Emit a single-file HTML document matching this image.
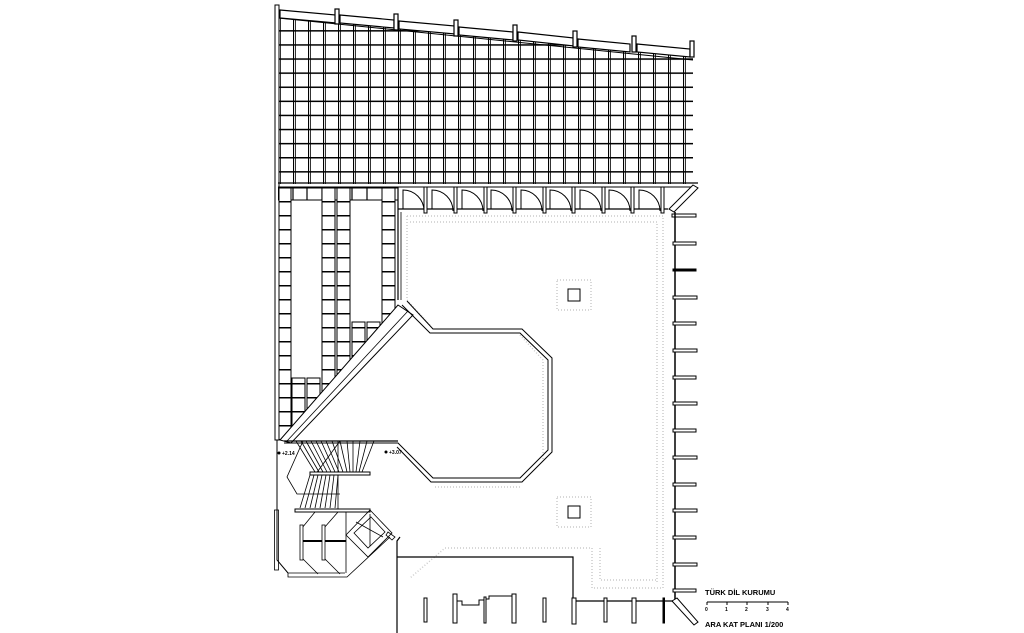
<!DOCTYPE html>
<html><head><meta charset="utf-8"><style>
html,body{margin:0;padding:0;background:#fff;}
svg{display:block;}
text{font-family:"Liberation Sans",sans-serif;font-weight:bold;}
</style></head><body>
<svg width="1024" height="633" viewBox="0 0 1024 633" xmlns="http://www.w3.org/2000/svg">
<defs>
<pattern id="g1" x="278" y="16" width="15" height="14.1" patternUnits="userSpaceOnUse">
<rect x="0" y="0" width="15" height="14.1" fill="#fff"/>
<line x1="0" y1="0.5" x2="15" y2="0.5" stroke="#000" stroke-width="2"/>
<line x1="0.5" y1="0" x2="0.5" y2="14.1" stroke="#000" stroke-width="1.2"/>
<line x1="2.5" y1="0" x2="2.5" y2="14.1" stroke="#000" stroke-width="0.8"/>
</pattern>
<pattern id="g2" x="0" y="187" width="15" height="14" patternUnits="userSpaceOnUse">
<rect width="15" height="14" fill="#fff"/>
<line x1="0" y1="0.6" x2="15" y2="0.6" stroke="#000" stroke-width="1.8"/>
</pattern>
<clipPath id="ctop"><polygon points="278,10 693,53 693,184 278,184"/></clipPath>
<clipPath id="cdiag"><polygon points="278,184 398,184 398,305 285,440 278,440"/></clipPath>
</defs>

<rect x="278" y="10" width="415" height="175" fill="url(#g1)" clip-path="url(#ctop)"/>
<g stroke="#000" stroke-width="1.2" fill="#fff">
<polygon points="280,10 336,15 336,23 280,18"/>
<polygon points="340,15 394,20 394,28 340,23"/>
<polygon points="399,21 455,26 455,34 399,29"/>
<polygon points="459,27 513,32 513,40 459,35"/>
<polygon points="518,32 574,38 574,46 518,40"/>
<polygon points="578,39 630,44 630,52 578,47"/>
<polygon points="637,44 690,49 690,57 637,52"/>
<rect x="335" y="9" width="4" height="15"/>
<rect x="394" y="14" width="4" height="16"/>
<rect x="454" y="20" width="4" height="16"/>
<rect x="513" y="25" width="4" height="16"/>
<rect x="573" y="31" width="4" height="16"/>
<rect x="632" y="36" width="4" height="16"/>
<rect x="690" y="41" width="4" height="16"/>
</g>
<line x1="278" y1="18" x2="693" y2="60" stroke="#000" stroke-width="1"/>
<rect x="275" y="5" width="4" height="435" fill="#fff" stroke="#000" stroke-width="1"/>
<rect x="274.5" y="510" width="4" height="60" fill="#fff" stroke="#000" stroke-width="0.8"/>
<polyline points="277,440 277,560 288,573" fill="none" stroke="#000"/>

<line x1="278" y1="183" x2="698" y2="183" stroke="#000" stroke-width="1.2"/>
<line x1="278" y1="187" x2="693" y2="187" stroke="#000" stroke-width="1"/>

<g clip-path="url(#cdiag)">
<rect x="278" y="187" width="120" height="13" fill="url(#g2)" stroke="#000" stroke-width="1"/>
<g stroke="#000" stroke-width="1.2">
<line x1="293" y1="187" x2="293" y2="200"/><line x1="307" y1="187" x2="307" y2="200"/>
<line x1="322" y1="187" x2="322" y2="200"/><line x1="352" y1="187" x2="352" y2="200"/>
<line x1="367" y1="187" x2="367" y2="200"/>
</g>
<rect x="279" y="187" width="12" height="255" fill="url(#g2)" stroke="#000"/>
<rect x="322" y="187" width="13" height="255" fill="url(#g2)" stroke="#000"/>
<rect x="337" y="187" width="13" height="255" fill="url(#g2)" stroke="#000"/>
<rect x="382" y="187" width="13" height="255" fill="url(#g2)" stroke="#000"/>
<rect x="292" y="378" width="13" height="60" fill="url(#g2)" stroke="#000"/>
<rect x="307" y="378" width="13" height="60" fill="url(#g2)" stroke="#000"/>
<rect x="352" y="322" width="13" height="60" fill="url(#g2)" stroke="#000"/>
<rect x="367" y="322" width="13" height="60" fill="url(#g2)" stroke="#000"/>
</g>
<polygon points="398,305 413,315 291,443 280,440" fill="#fff" stroke="#000" stroke-width="1"/>
<line x1="408" y1="311" x2="287" y2="441" stroke="#000" stroke-width="0.8"/>
<line x1="398" y1="187" x2="398" y2="300" stroke="#000" stroke-width="1.2"/>
<line x1="401" y1="212" x2="401" y2="300" stroke="#000" stroke-width="0.8"/>

<line x1="398" y1="209" x2="668" y2="209" stroke="#000" stroke-width="1.2"/>
<g stroke="#000" fill="none" stroke-width="1">
<path d="M403,209 L403,190 A21,21 0 0 1 424,211"/>
<path d="M432,209 L432,190 A21,21 0 0 1 453,211"/>
<path d="M462,209 L462,190 A21,21 0 0 1 483,211"/>
<path d="M491,209 L491,190 A21,21 0 0 1 512,211"/>
<path d="M521,209 L521,190 A21,21 0 0 1 542,211"/>
<path d="M550,209 L550,190 A21,21 0 0 1 571,211"/>
<path d="M580,209 L580,190 A21,21 0 0 1 601,211"/>
<path d="M609,209 L609,190 A21,21 0 0 1 630,211"/>
<path d="M639,209 L639,190 A21,21 0 0 1 660,211"/>
</g>
<g fill="#fff" stroke="#000" stroke-width="1">
<rect x="424" y="187" width="3" height="26"/><rect x="454" y="187" width="3" height="26"/>
<rect x="484" y="187" width="3" height="26"/><rect x="513" y="187" width="3" height="26"/>
<rect x="543" y="187" width="3" height="26"/><rect x="572" y="187" width="3" height="26"/>
<rect x="602" y="187" width="3" height="26"/><rect x="631" y="187" width="3" height="26"/>
<rect x="661" y="187" width="3" height="26"/>
</g>
<polygon points="693,185 698,188 674,212 669,209" fill="#fff" stroke="#000"/>
<rect x="672" y="214" width="24" height="3" fill="#fff" stroke="#000"/>

<g fill="none" stroke="#ccc" stroke-width="1.5" stroke-dasharray="1,2">
<polyline points="407,216 663,216 663,588 592,588 592,548 445,548 410,578"/>
<polyline points="407,216 407,300 430,325"/>
<polyline points="410,222 657,222 657,582"/>
<polyline points="520,335 543,360 543,460"/>
<polyline points="435,487 520,487"/>
<polyline points="600,548 600,580 657,580"/>
<rect x="557" y="280" width="34" height="30"/>
<rect x="557" y="497" width="34" height="30"/>
</g>

<line x1="675" y1="212" x2="675" y2="600" stroke="#000" stroke-width="1.5"/>
<g fill="#fff" stroke="#000" stroke-width="1">
<rect x="673" y="242" width="23" height="3"/>
<rect x="673" y="269" width="23" height="2" fill="#000"/>
<rect x="673" y="296" width="24" height="3"/>
<rect x="673" y="322" width="23" height="3"/>
<rect x="673" y="349" width="24" height="3"/>
<rect x="673" y="376" width="23" height="3"/>
<rect x="673" y="402" width="24" height="3"/>
<rect x="673" y="429" width="23" height="3"/>
<rect x="673" y="456" width="24" height="3"/>
<rect x="673" y="483" width="23" height="3"/>
<rect x="673" y="509" width="24" height="3"/>
<rect x="673" y="536" width="23" height="3"/>
<rect x="673" y="563" width="24" height="3"/>
<rect x="673" y="589" width="23" height="3"/>
<polygon points="672,601 677,598 698,622 694,625"/>
</g>

<g fill="none" stroke="#000" stroke-width="1">
<polyline points="402,305 430,333 520,333 548,360 548,450 520,478 433,478 398,443 284,443"/>
<polyline points="407,301 433,329 522,329 552,358 552,452 522,482 431,482 397,447"/>
</g>
<rect x="568" y="289" width="12" height="12" fill="#fff" stroke="#000"/>
<rect x="568" y="506" width="12" height="12" fill="#fff" stroke="#000"/>

<g stroke="#000" fill="none" stroke-width="0.8">
<line x1="284" y1="441" x2="398" y2="441" stroke-width="1.2"/>
<line x1="296" y1="441" x2="315" y2="472"/><line x1="301" y1="441" x2="319" y2="472"/>
<line x1="306" y1="441" x2="323" y2="472"/><line x1="311" y1="441" x2="327" y2="472"/>
<line x1="316" y1="441" x2="331" y2="472"/><line x1="321" y1="441" x2="335" y2="472"/>
<line x1="326" y1="441" x2="339" y2="472"/><line x1="332" y1="441" x2="343" y2="472"/>
<line x1="340" y1="441" x2="347" y2="472"/><line x1="347" y1="441" x2="350" y2="472"/>
<line x1="353" y1="441" x2="353" y2="472"/><line x1="360" y1="441" x2="356" y2="472"/>
<line x1="367" y1="441" x2="359" y2="472"/><line x1="374" y1="441" x2="362" y2="472"/>
<line x1="310" y1="475" x2="300" y2="508"/><line x1="314" y1="475" x2="305" y2="508"/>
<line x1="318" y1="475" x2="310" y2="508"/><line x1="322" y1="475" x2="315" y2="508"/>
<line x1="326" y1="475" x2="320" y2="508"/><line x1="330" y1="475" x2="325" y2="508"/>
<line x1="334" y1="475" x2="330" y2="508"/><line x1="338" y1="475" x2="335" y2="508"/>
<line x1="340" y1="441" x2="315" y2="475"/>
<polyline points="303,441 287,477 297,494 340,494"/>
<line x1="338" y1="441" x2="338" y2="510"/>
</g>
<rect x="310" y="472" width="60" height="3" fill="#fff" stroke="#000"/>
<rect x="295" y="509" width="75" height="3" fill="#fff" stroke="#000"/>
<circle cx="279" cy="453" r="1.5"/><text x="282" y="455" font-size="5" font-weight="normal">+2.14</text>
<circle cx="386" cy="452" r="1.5"/><text x="389" y="454" font-size="5" font-weight="normal">+3.07</text>

<g stroke="#000" fill="none" stroke-width="0.8">
<polyline points="288,573 288,577 347,577 390,537"/>
<line x1="288" y1="573" x2="345" y2="573"/>
<polyline points="315,512 302,528 302,558 318,574"/>
<polyline points="338,512 324,528 324,558 340,574"/>
<line x1="346" y1="512" x2="346" y2="573"/>
<line x1="302" y1="541" x2="346" y2="541" stroke-width="2"/>
<rect x="300" y="525" width="3" height="35" fill="#fff"/>
<rect x="322" y="525" width="3" height="35" fill="#fff"/>
<polygon points="370,510 392,533 368,557 346,535"/>
<polygon points="371,517 385,532 368,548 354,533"/>
<line x1="356" y1="522" x2="383" y2="537"/><line x1="370" y1="514" x2="370" y2="546"/>
<polygon points="388,532 395,537 392,540 386,535"/>
</g>

<g stroke="#000" fill="none" stroke-width="1.2">
<polyline points="400,537 397,541 397,633"/>
<polyline points="397,557 573,557 573,601 673,601"/>
</g>
<g fill="#fff" stroke="#000" stroke-width="1">
<rect x="424" y="598" width="3" height="24"/>
<rect x="453" y="594" width="4" height="29"/>
<polyline points="457,601 462,601 462,605 479,605 479,600 484,600" fill="none"/>
<rect x="484" y="597" width="2" height="26"/>
<polyline points="486,599 489,599 489,596 512,596 512,600" fill="none"/>
<rect x="512" y="594" width="4" height="29"/>
<rect x="543" y="598" width="3" height="24"/>
<rect x="572" y="598" width="4" height="26"/>
<rect x="604" y="598" width="3" height="24"/>
<rect x="632" y="598" width="4" height="25"/>
<rect x="663" y="598" width="1.5" height="25" fill="#000"/>
</g>

<text x="705" y="595" font-size="7.5">TÜRK DİL KURUMU</text>
<g stroke="#000" stroke-width="1">
<line x1="707" y1="602" x2="788" y2="602"/>
<line x1="707" y1="602" x2="707" y2="605"/><line x1="727" y1="602" x2="727" y2="605"/>
<line x1="747" y1="602" x2="747" y2="605"/><line x1="768" y1="602" x2="768" y2="605"/>
<line x1="788" y1="602" x2="788" y2="605"/>
</g>
<g font-size="5"><text x="705" y="611">0</text><text x="725" y="611">1</text><text x="745" y="611">2</text><text x="766" y="611">3</text><text x="786" y="611">4</text></g>
<text x="705" y="627" font-size="7.5">ARA KAT PLANI 1/200</text>
</svg>
</body></html>
